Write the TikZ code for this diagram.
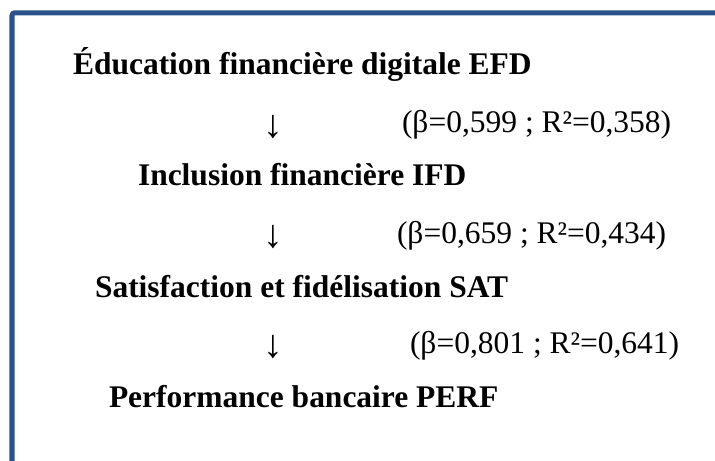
\documentclass[tikz,border=0pt]{standalone}
\usepackage{fontspec}
\setmainfont{Liberation Serif}
\usetikzlibrary{positioning}
\definecolor{cadreblue}{RGB}{41,82,138}

\begin{document}
\begin{tikzpicture}[
    every node/.style={inner sep=0pt, outer sep=0pt},
    varbox/.style={anchor=base west, font=\fontsize{22.4pt}{27pt}\selectfont\bfseries},
    coeff/.style={anchor=base west, font=\fontsize{22.4pt}{27pt}\selectfont},
    fleche/.style={anchor=center, font=\fontsize{28pt}{32pt}\selectfont}]

    \useasboundingbox (0, 0) rectangle (17.875, -11.525);
    \clip (0, 0) rectangle (17.875, -11.525);

    % ---- Cadre ----
    \draw[cadreblue, line width=3.6pt, rounded corners=2pt] (0.3, -0.32) rectangle (19, -13);

    % ---- Variables ----
    \node[varbox] (efd)  at (1.825, -1.875)  {Éducation financière digitale EFD};
    \node[varbox] (ifd)  at (3.45, -4.65)    {Inclusion financière IFD};
    \node[varbox] (sat)  at (2.375, -7.425)  {Satisfaction et fidélisation SAT};
    \node[varbox] (perf) at (2.725, -10.175) {Performance bancaire PERF};

    % ---- Flèches et coefficients ----
    \node[fleche] (f1) at (6.825, -3.175) {↓};
    \node[coeff]  (c1) at (10.05, -3.325)  {(β=0,599 ; R²=0,358)};
    \node[fleche] (f2) at (6.825, -5.925) {↓};
    \node[coeff]  (c2) at (9.925, -6.075)  {(β=0,659 ; R²=0,434)};
    \node[fleche] (f3) at (6.825, -8.6875) {↓};
    \node[coeff]  (c3) at (10.25, -8.825)  {(β=0,801 ; R²=0,641)};

\end{tikzpicture}
\end{document}
